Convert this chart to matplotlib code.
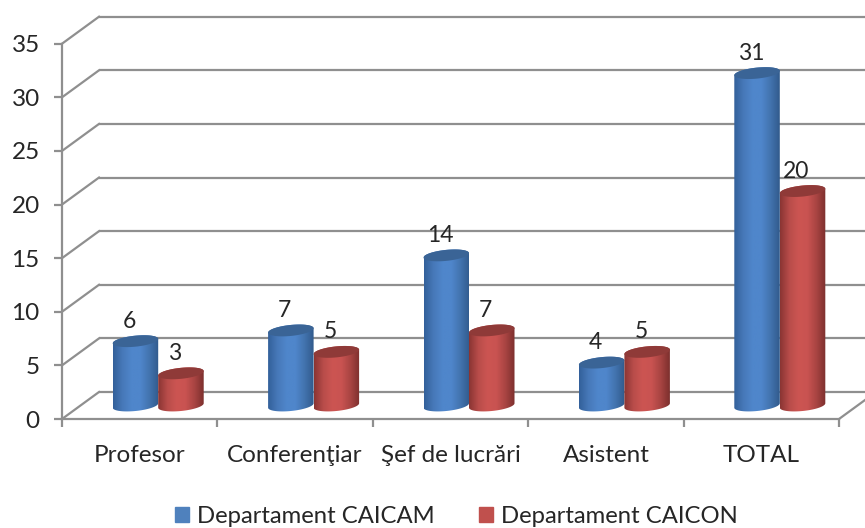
import numpy as np
import matplotlib
matplotlib.use('Agg')
import matplotlib.pyplot as plt
from matplotlib.colors import LinearSegmentedColormap
from matplotlib.patches import Polygon, Patch

categories = ['Profesor', 'Conferenţiar', 'Şef de lucrări', 'Asistent', 'TOTAL']
caicam = [6, 7, 14, 4, 31]
caicon = [3, 5, 7, 5, 20]
yticks = [0, 5, 10, 15, 20, 25, 30, 35]
names = ['Departament CAICAM', 'Departament CAICON']

plt.rcParams['font.family'] = ['Lato', 'Open Sans', 'DejaVu Sans']
GRID = '#8f8f8f'
TEXT = '#262626'

fig = plt.figure(figsize=(8.65, 5.28), dpi=100)
ax = fig.add_axes([62 / 865, 1 - 419 / 528, 777 / 865, 375.3 / 528])
ax.set_xlim(0, 5)
ax.set_ylim(0, 35)
ax.patch.set_visible(False)

# pixel sizes turned into data units
px_x = 5 / 777
px_y = 35 / 375.3
depth_x = 37 * px_x
depth_y = 27 * px_y
bar_w = 45.5 * px_x
ell_b = 5.5 * px_y
ell_k = 2.2 * px_y

cmap_blue = LinearSegmentedColormap.from_list('b', ['#33609a', '#4678b8', '#4f86cb', '#4f86cb', '#4273ae', '#315a8c'])
cmap_red = LinearSegmentedColormap.from_list('r', ['#8a3533', '#b84c4a', '#cc5552', '#c95351', '#a84442', '#7c2f2d'])
grad = np.linspace(0, 1, 128).reshape(1, -1)


def ellipse(cx, cy, t):
    return cx + bar_w / 2 * np.cos(t), cy + ell_b * np.sin(t) + ell_k * np.cos(t)


def cylinder(cx, val, cmap, top_col, z):
    base = depth_y / 2
    top = base + val
    xb, yb = ellipse(cx, base, np.linspace(np.pi, 2 * np.pi, 40))
    xt, yt = ellipse(cx, top, np.linspace(0, np.pi, 40))
    body = Polygon(np.column_stack([np.r_[xb, xt], np.r_[yb, yt]]), closed=True,
                   transform=ax.transData, facecolor='none', edgecolor='none')
    ax.add_patch(body)
    im = ax.imshow(grad, cmap=cmap, extent=[cx - bar_w / 2, cx + bar_w / 2, 0, top + 2],
                   aspect='auto', zorder=z, interpolation='bilinear')
    im.set_clip_path(body)
    xe, ye = ellipse(cx, top, np.linspace(0, 2 * np.pi, 80))
    ax.fill(xe, ye, color=top_col, lw=0, zorder=z + 0.1)
    ax.annotate(str(val), (cx, top), xytext=(-6, 20), textcoords='offset pixels',
                ha='center', va='center', fontsize=16.5, color=TEXT, zorder=10)


# back wall and floor
for v in yticks:
    ax.plot([depth_x, 5 + depth_x], [v + depth_y, v + depth_y], color=GRID, lw=1.6,
            clip_on=False, zorder=1, solid_capstyle='butt')
    ax.plot([0, depth_x], [v, v + depth_y], color=GRID, lw=1.6, clip_on=False, zorder=1)
ax.plot([5, 5 + depth_x], [0, depth_y], color=GRID, lw=1.6, clip_on=False, zorder=1)

for i in range(len(categories)):
    c = i + 0.5 + depth_x / 2
    cylinder(c - bar_w / 2, caicam[i], cmap_blue, '#3a6496', 3)
    cylinder(c + bar_w / 2, caicon[i], cmap_red, '#8f3a38', 4)

ax.set_xlim(0, 5)
ax.set_ylim(0, 35)

for s in ['top', 'right']:
    ax.spines[s].set_visible(False)
for s in ['left', 'bottom']:
    ax.spines[s].set_color(GRID)
    ax.spines[s].set_linewidth(1.6)

ax.set_yticks(yticks)
ax.tick_params(axis='y', length=6, width=1.6, color=GRID, labelsize=17.5, labelcolor=TEXT, pad=10)
ax.set_xticks(range(6))
ax.set_xticklabels([])
ax.set_xticks([i + 0.5 for i in range(5)], minor=True)
ax.set_xticklabels(categories, minor=True)
ax.tick_params(axis='x', which='major', length=6, width=1.6, color=GRID)
ax.tick_params(axis='x', which='minor', length=0, labelsize=17.5, labelcolor=TEXT, pad=18.5)

handles = [Patch(color='#4f81bd', label=names[0]), Patch(color='#c0504d', label=names[1])]
fig.legend(handles=handles, loc='center', bbox_to_anchor=(456.5 / 865, 1 - 516.5 / 528), ncol=2, frameon=False,
           fontsize=17.2, labelcolor=TEXT, handlelength=0.59, handleheight=0.59, handletextpad=0.34,
           columnspacing=1.85, borderpad=0, borderaxespad=0)

fig.savefig('out.png', dpi=100)
